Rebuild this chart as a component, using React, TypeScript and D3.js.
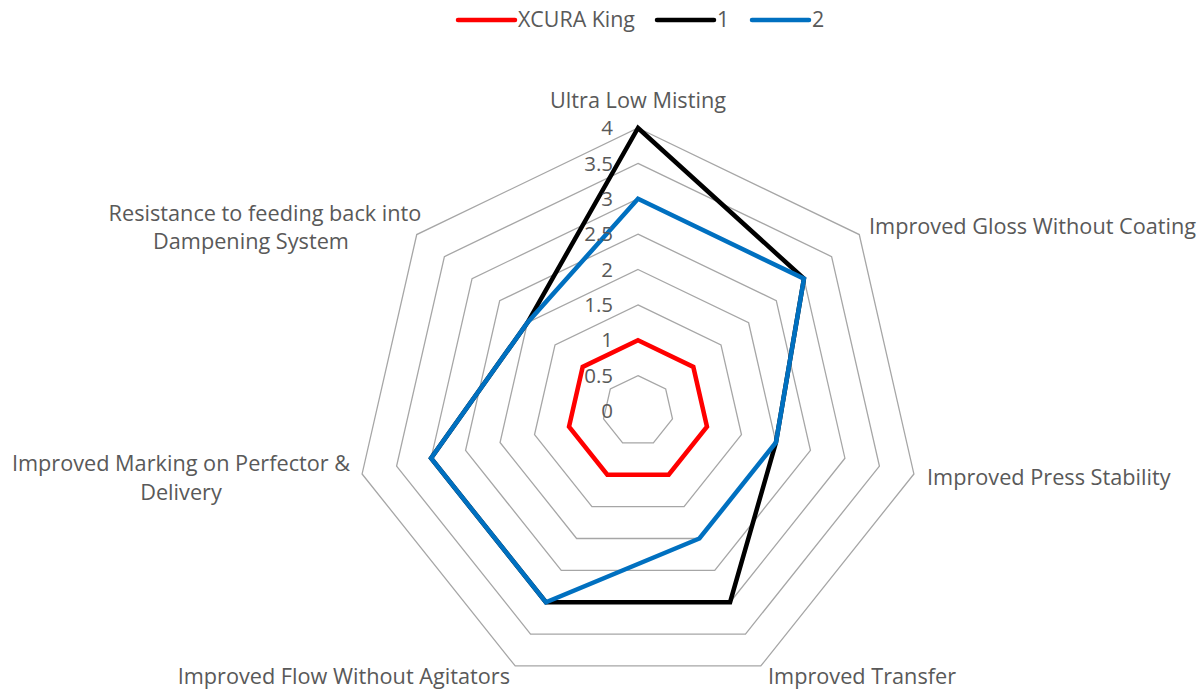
import React, { useEffect, useRef } from "react";
import * as d3 from "d3";

const categories = [
  "Ultra Low Misting",
  "Improved Gloss Without Coating",
  "Improved Press Stability",
  "Improved Transfer",
  "Improved Flow Without Agitators",
  "Improved Marking on Perfector & Delivery",
  "Resistance to feeding back into Dampening System",
];
const seriesNames = ["XCURA King", "1", "2"];
const xcuraKing = [1, 1, 1, 1, 1, 1, 1];
const series1 = [4, 3, 2, 3, 3, 3, 2];
const series2 = [3, 3, 2, 2, 3, 3, 2];
const tickValues = [0, 0.5, 1, 1.5, 2, 2.5, 3, 3.5, 4];
const tickLabels = ["0", "0.5", "1", "1.5", "2", "2.5", "3", "3.5", "4"];

const colors = ["#ff0000", "#000000", "#0070c0"];
const FONT = "'Open Sans', 'Noto Sans', sans-serif";
const TEXT = "#595959";

// label layout: lines, x, y (line center), anchor
const labelLines = [
  ["Ultra Low Misting"],
  ["Improved Gloss Without Coating"],
  ["Improved Press Stability"],
  ["Improved Transfer"],
  ["Improved Flow Without Agitators"],
  ["Improved Marking on Perfector &", "Delivery"],
  ["Resistance to feeding back into", "Dampening System"],
];
const labelPos: [number, number, string][][] = [
  [[638, 100, "middle"]],
  [[869, 226, "start"]],
  [[927, 477, "start"]],
  [[768, 676, "start"]],
  [[510, 676, "end"]],
  [[181, 463, "middle"], [181, 492, "middle"]],
  [[265, 213, "middle"], [251, 241, "middle"]],
];

export default function App() {
  const ref = useRef<SVGSVGElement>(null);
  useEffect(() => {
    const svg = d3.select(ref.current);
    svg.selectAll("*").remove();
    const cx = 638, cy = 411;
    const r = d3.scaleLinear().domain([0, 4]).range([0, 283]);
    const n = categories.length;
    const ang = (i: number) => (i * 2 * Math.PI) / n;
    const pt = (i: number, v: number): [number, number] => [
      cx + r(v) * Math.sin(ang(i)),
      cy - r(v) * Math.cos(ang(i)),
    ];
    const line = d3.line().curve(d3.curveLinearClosed);

    // grid rings
    svg.append("g").selectAll("path").data(tickValues.filter((t) => t > 0)).join("path")
      .attr("d", (t) => line(categories.map((_, i) => pt(i, t))))
      .attr("fill", "none").attr("stroke", "#a6a6a6").attr("stroke-width", 1.3);

    // series
    const all = [xcuraKing, series1, series2];
    svg.append("g").selectAll("path").data(all).join("path")
      .attr("d", (d) => line(d.map((v, i) => pt(i, v))))
      .attr("fill", "none").attr("stroke", (_, k) => colors[k])
      .attr("stroke-width", 4.5).attr("stroke-linejoin", "miter");

    // tick labels
    svg.append("g").selectAll("text").data(tickValues).join("text")
      .attr("x", 613).attr("y", (t) => cy - r(t))
      .attr("dy", "0.35em").attr("text-anchor", "end")
      .attr("font-family", FONT).attr("font-size", 20.5).attr("fill", TEXT)
      .text((_, i) => tickLabels[i]);

    // category labels
    const lg = svg.append("g");
    labelLines.forEach((lines, i) => {
      lines.forEach((s, j) => {
        const [x, y, a] = labelPos[i][j];
        lg.append("text").attr("x", x).attr("y", y).attr("dy", "0.35em")
          .attr("text-anchor", a).attr("font-family", FONT).attr("font-size", 21.7)
          .attr("fill", TEXT).text(s);
      });
    });

    // legend
    const legX = [458, 657, 752];
    const leg = svg.append("g");
    seriesNames.forEach((s, k) => {
      leg.append("line").attr("x1", legX[k]).attr("x2", legX[k] + 57).attr("y1", 20).attr("y2", 20)
        .attr("stroke", colors[k]).attr("stroke-width", 4.5).attr("stroke-linecap", "round");
      leg.append("text").attr("x", legX[k] + 60).attr("y", 20).attr("dy", "0.35em")
        .attr("font-family", FONT).attr("font-size", 21.4).attr("fill", TEXT).text(s);
    });
  }, []);
  return (
    <svg ref={ref} width={1199} height={690}
      style={{ position: "absolute", left: 0, top: 0, background: "#fff" }} />
  );
}
